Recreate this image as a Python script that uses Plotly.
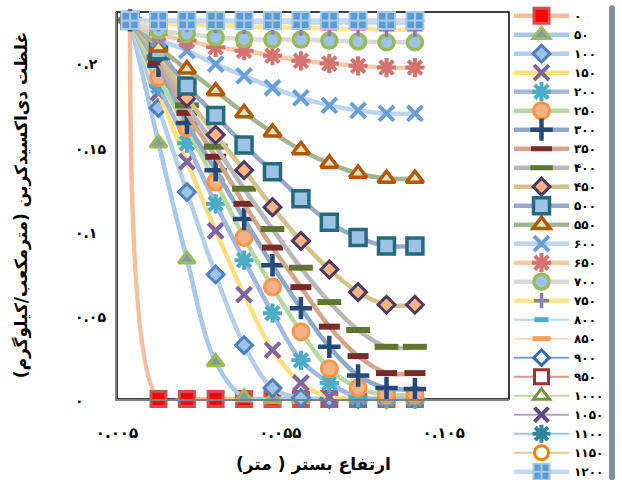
import plotly.graph_objects as go

# ---------------- data ----------------
bed_height = [0.009, 0.0177, 0.0264, 0.0352, 0.0439, 0.0526, 0.0613, 0.07, 0.0788, 0.0875, 0.0962]

series_names = ["۰", "۵۰", "۱۰۰", "۱۵۰", "۲۰۰", "۲۵۰", "۳۰۰", "۳۵۰", "۴۰۰", "۴۵۰", "۵۰۰", "۵۵۰",
                "۶۰۰", "۶۵۰", "۷۰۰", "۷۵۰", "۸۰۰", "۸۵۰", "۹۰۰", "۹۵۰", "۱۰۰۰", "۱۰۵۰", "۱۱۰۰", "۱۱۵۰", "۱۲۰۰"]

s0 = [0.225, 0, 0, 0, 0, 0, 0, 0, 0, 0, 0]
s50 = [0.225, 0.152, 0.083, 0.022, 0.001, 0, 0, 0, 0, 0, 0]
s100 = [0.225, 0.173, 0.123, 0.074, 0.032, 0.0065, 0.0006, 0, 0, 0, 0]
s150 = [0.225, 0.182, 0.141, 0.100, 0.062, 0.029, 0.0095, 0.0012, 0, 0, 0]
s200 = [0.225, 0.186, 0.152, 0.116, 0.0825, 0.051, 0.023, 0.0095, 0.001, 0, 0]
s250 = [0.225, 0.191, 0.161, 0.129, 0.096, 0.0665, 0.040, 0.018, 0.0065, 0.0024, 0.0024]
s300 = [0.225, 0.198, 0.164, 0.136, 0.107, 0.0795, 0.054, 0.031, 0.014, 0.0065, 0.006]
s350 = [0.225, 0.200, 0.170, 0.144, 0.116, 0.090, 0.0665, 0.043, 0.0255, 0.0154, 0.0154]
s400 = [0.225, 0.203, 0.1745, 0.150, 0.125, 0.101, 0.078, 0.0576, 0.041, 0.031, 0.031]
s450 = [0.225, 0.205, 0.179, 0.157, 0.136, 0.114, 0.094, 0.077, 0.0635, 0.056, 0.056]
s500 = [0.225, 0.207, 0.186, 0.1685, 0.151, 0.135, 0.119, 0.105, 0.096, 0.091, 0.091]
s550 = [0.225, 0.209, 0.196, 0.183, 0.170, 0.1585, 0.148, 0.140, 0.134, 0.131, 0.131]
s600 = [0.225, 0.214, 0.207, 0.199, 0.192, 0.185, 0.179, 0.1745, 0.1715, 0.1697, 0.1697]
s650 = [0.225, 0.217, 0.213, 0.209, 0.207, 0.204, 0.201, 0.1994, 0.198, 0.197, 0.197]
s700 = [0.225, 0.219, 0.217, 0.215, 0.214, 0.2136, 0.2136, 0.213, 0.2125, 0.212, 0.212]
s750 = [0.225, 0.223, 0.2225, 0.222, 0.2215, 0.221, 0.2205, 0.220, 0.220, 0.2195, 0.2195]
s800 = [0.225, 0.2245, 0.224, 0.224, 0.2235, 0.2235, 0.223, 0.223, 0.223, 0.223, 0.223]
s850 = [0.225, 0.2248, 0.2245, 0.2245, 0.2245, 0.2243, 0.2243, 0.2243, 0.2243, 0.2243, 0.2243]
s900 = [0.225, 0.225, 0.225, 0.225, 0.225, 0.225, 0.225, 0.225, 0.225, 0.225, 0.225]
s950 = [0.225, 0.225, 0.225, 0.225, 0.225, 0.225, 0.225, 0.225, 0.225, 0.225, 0.225]
s1000 = [0.225, 0.225, 0.225, 0.225, 0.225, 0.225, 0.225, 0.225, 0.225, 0.225, 0.225]
s1050 = [0.225, 0.225, 0.225, 0.225, 0.225, 0.225, 0.225, 0.225, 0.225, 0.225, 0.225]
s1100 = [0.225, 0.225, 0.225, 0.225, 0.225, 0.225, 0.225, 0.225, 0.225, 0.225, 0.225]
s1150 = [0.225, 0.225, 0.225, 0.225, 0.225, 0.225, 0.225, 0.225, 0.225, 0.225, 0.225]
s1200 = [0.225, 0.225, 0.225, 0.225, 0.225, 0.225, 0.225, 0.225, 0.225, 0.225, 0.225]

all_series = [s0, s50, s100, s150, s200, s250, s300, s350, s400, s450, s500, s550,
              s600, s650, s700, s750, s800, s850, s900, s950, s1000, s1050, s1100, s1150, s1200]

x_tick_vals = [0.005, 0.055, 0.105]
x_tick_text = ["۰.۰۰۵", "۰.۰۵۵", "۰.۱۰۵"]
y_tick_vals = [0, 0.05, 0.1, 0.15, 0.2]
y_tick_text = ["۰", "۰.۰۵", "۰.۱", "۰.۱۵", "۰.۲"]

x_title = "ارتفاع بستر ( متر)"
y_title = "غلظت دی‌اکسیدکربن (مترمکعب/کیلوگرم)"

# ---------------- styles ----------------
# (line colour, line width, symbol, size, fill, border colour, border width)
styles = [
    ("#F8BE9C", 4.5, "square", 15, "#FF0000", "#C9504D", 3),
    ("#A9C9EA", 4.5, "triangle-up", 15, "#8497B0", "#9BBB59", 3),
    ("#B4CFEC", 4.5, "diamond", 13, "#9DC3E6", "#4F81BD", 3),
    ("#FFDF80", 4.5, "x-thin", 15, "#8064A2", "#8064A2", 4),
    ("#A3B8E0", 4.5, "asterisk", 16, "#4BACC6", "#4BACC6", 4),
    ("#B9D8A0", 4.5, "circle", 16, "#F4B183", "#F79646", 3),
    ("#8EAACB", 4.5, "cross-thin", 16, "#254A7A", "#254A7A", 4.5),
    ("#D5A58A", 4.5, "line-ew", 15, "#772C2A", "#772C2A", 6),
    ("#B8B8B8", 4.5, "line-ew", 17, "#5F7530", "#5F7530", 6),
    ("#D4C388", 4.5, "diamond", 13, "#FAB585", "#4D3B62", 3),
    ("#98A8C8", 4.5, "square", 16, "#9DC3E6", "#276A7C", 3.5),
    ("#A2B591", 4.5, "triangle-up", 15, "#D7E4BD", "#B65708", 3.5),
    ("#BCD5EF", 4.5, "x-thin", 15, "#6A9FD5", "#6A9FD5", 4),
    ("#FAC9A8", 4.5, "asterisk", 16, "#D47370", "#D47370", 4),
    ("#D9D9D9", 4.5, "circle", 15, "#9DC3E6", "#9BBB59", 3.5),
    ("#FFE699", 4.5, "cross-thin", 11, "#8E7CC3", "#8E7CC3", 3.5),
    ("#B7DEE8", 2, "line-ew", 10, "#4BACC6", "#4BACC6", 5),
    ("#FCD5B5", 2, "line-ew", 13, "#F9A15A", "#F9A15A", 6),
    ("#7F9FCF", 2, "diamond", 12, "#FFFFFF", "#2E6DB4", 3),
    ("#D99594", 2, "square", 14, "#FFFFFF", "#A0302F", 3),
    ("#C3D69B", 2, "triangle-up", 14, "#FFFFFF", "#77933C", 3),
    ("#B3A2C7", 2, "x-thin", 14, "#5F497A", "#5F497A", 4),
    ("#92CDDC", 2, "asterisk", 15, "#31859C", "#31859C", 4),
    ("#FAC090", 2, "circle", 14, "#FFFFFF", "#F27F0A", 3),
    ("#C5D9F1", 4.5, "square-cross", 17, "#5B9BD5", "#A8C8E8", 2),
]

fig = go.Figure()
for name, vals, st in zip(series_names, all_series, styles):
    lc, lw, sym, size, fill, bc, bw = st
    fig.add_trace(go.Scatter(
        x=bed_height, y=vals, name=name, mode="lines+markers",
        line=dict(color=lc, width=lw, shape="spline", smoothing=1),
        marker=dict(symbol=sym, size=size, color=fill, line=dict(color=bc, width=bw)),
        cliponaxis=False,
    ))

FONT = "DejaVu Sans"
fig.update_layout(
    width=622, height=480,
    margin=dict(l=117, r=113, t=12, b=81, autoexpand=False),
    paper_bgcolor="white", plot_bgcolor="white",
    font=dict(family=FONT, size=13, color="black", weight="bold"),
    showlegend=True,
    legend=dict(x=1.0, xanchor="left", y=1.028, yanchor="top",
                font=dict(family=FONT, size=12, color="black", weight="bold"),
                itemwidth=55, tracegroupgap=0, bgcolor="rgba(0,0,0,0)",
                maxheight=480),
    xaxis=dict(range=[0.005, 0.125], tickvals=x_tick_vals, ticktext=x_tick_text,
               showgrid=False, zeroline=False, showline=True, linecolor="#808080", linewidth=2,
               ticks="", ticklabelstandoff=19,
               tickfont=dict(family=FONT, size=15, color="black", weight="bold")),
    yaxis=dict(range=[0, 0.23], tickvals=y_tick_vals, showticklabels=False,
               showgrid=False, zeroline=False, showline=True, linecolor="#808080", linewidth=2,
               ticks=""),
)

# plot-area frame (top / right)
fig.add_shape(type="rect", xref="paper", yref="paper", x0=0, x1=1, y0=0, y1=1,
              line=dict(color="black", width=1.5), layer="below")

# left-aligned y tick labels
for v, t in zip(y_tick_vals, y_tick_text):
    fig.add_annotation(x=0, xref="paper", y=v, yref="y", text=t, showarrow=False,
                       xanchor="left", xshift=-44, yshift=-2,
                       font=dict(family=FONT, size=14, color="black", weight="bold"))

fig.add_annotation(x=0.5, xref="paper", y=-0.17, yref="paper", text=x_title, showarrow=False,
                   xanchor="center", yanchor="middle",
                   font=dict(family=FONT, size=17, color="black", weight="bold"))
fig.add_annotation(x=-0.243, xref="paper", y=0.5, yref="paper", text=y_title, showarrow=False,
                   textangle=-90, xanchor="center", yanchor="middle",
                   font=dict(family=FONT, size=17, color="black", weight="bold"))

fig.write_html("out.html", config={"displayModeBar": False},
               post_script="document.body.style.margin='0';")
